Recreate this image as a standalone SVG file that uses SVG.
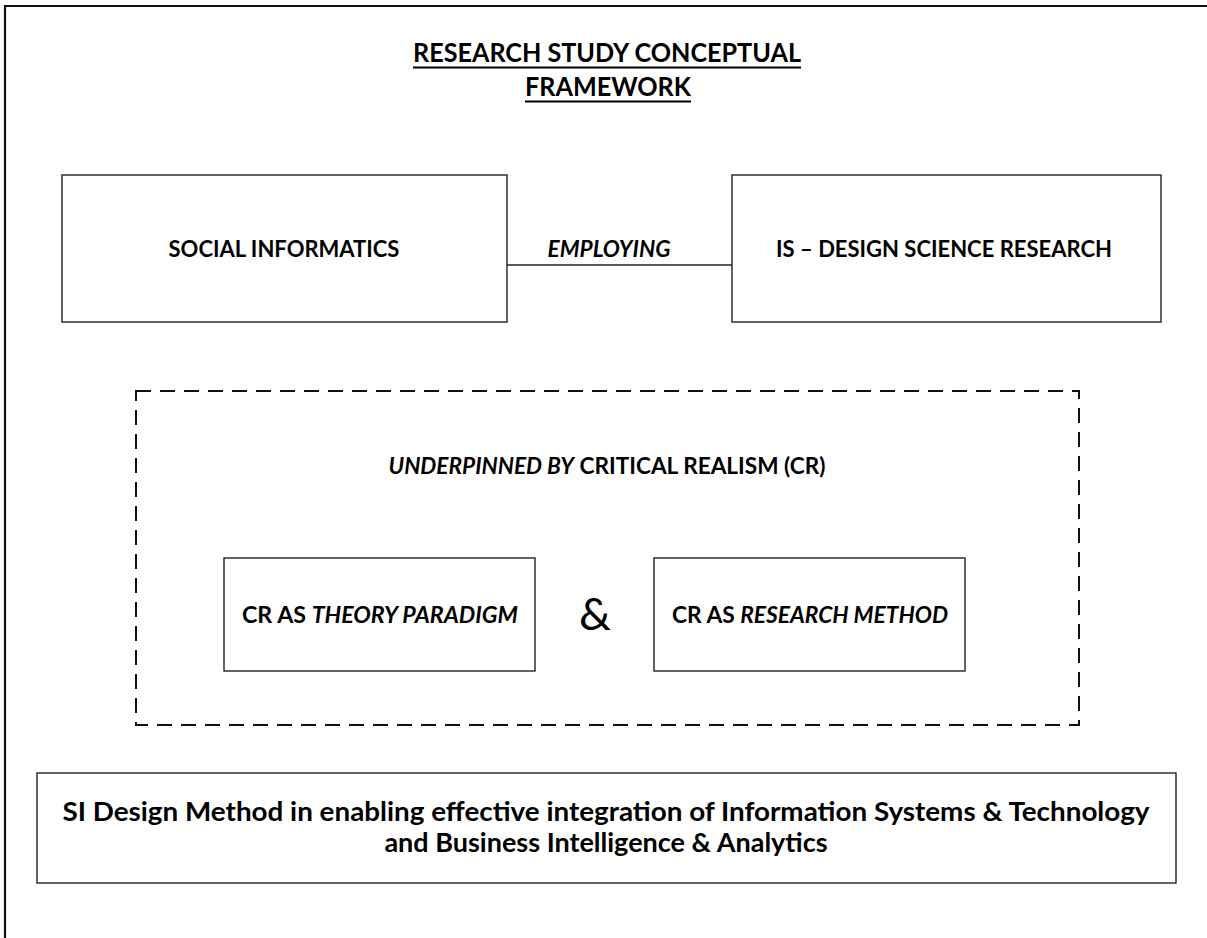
<svg xmlns="http://www.w3.org/2000/svg" width="1207" height="938" viewBox="0 0 1207 938">
  <style>
    .frame { fill: none; stroke: #111; stroke-width: 2.2; }
    .box { fill: #fff; stroke: #222; stroke-width: 1.4; }
    .dash { fill: none; stroke: #111; stroke-width: 2; stroke-dasharray: 15 9; }
    .conn { fill: none; stroke: #222; stroke-width: 1.4; }
    text { font-family: Lato, "Open Sans", "Liberation Sans", sans-serif; font-weight: bold; fill: #000; text-anchor: middle; }
    .title { font-size: 26px; }
    .lbl { font-size: 22px; }
    .big { font-size: 27px; }
    .amp { font-size: 45px; font-weight: normal; }
    .it { font-style: italic; }
    .ul { stroke: #000; stroke-width: 2; }
  </style>
  <rect width="1207" height="938" fill="#fff"/>
  <!-- page border (open at right and bottom) -->
  <path class="frame" d="M5,940 V6 H1210"/>

  <g id="title">
    <text class="title" x="607" y="62" textLength="388" lengthAdjust="spacingAndGlyphs">RESEARCH STUDY CONCEPTUAL</text>
    <line class="ul" x1="413" y1="67.5" x2="801" y2="67.5"/>
    <text class="title" x="608" y="96" textLength="166" lengthAdjust="spacingAndGlyphs">FRAMEWORK</text>
    <line class="ul" x1="525" y1="101.5" x2="691" y2="101.5"/>
  </g>

  <g id="connectors">
    <line class="conn" x1="507" y1="265" x2="732" y2="265"/>
    <text class="lbl it" x="609" y="257" textLength="123" lengthAdjust="spacingAndGlyphs">EMPLOYING</text>
  </g>

  <g id="social-informatics">
    <rect class="box" x="62" y="175" width="445" height="147"/>
    <text class="lbl" x="284" y="257">SOCIAL INFORMATICS</text>
  </g>

  <g id="design-science">
    <rect class="box" x="732" y="175" width="429" height="147"/>
    <text class="lbl" x="944" y="257">IS – DESIGN SCIENCE RESEARCH</text>
  </g>

  <g id="critical-realism">
    <rect class="dash" x="136" y="391" width="943" height="334"/>
    <text class="lbl" x="607" y="474" textLength="437" lengthAdjust="spacingAndGlyphs"><tspan class="it">UNDERPINNED BY</tspan> CRITICAL REALISM (CR)</text>
  </g>

  <g id="cr-theory">
    <rect class="box" x="224" y="558" width="311" height="113"/>
    <text class="lbl" x="380" y="623" textLength="276" lengthAdjust="spacingAndGlyphs">CR AS <tspan class="it">THEORY PARADIGM</tspan></text>
  </g>

  <text class="amp" x="595" y="630">&amp;</text>

  <g id="cr-method">
    <rect class="box" x="654" y="558" width="311" height="113"/>
    <text class="lbl" x="810" y="623" textLength="276" lengthAdjust="spacingAndGlyphs">CR AS <tspan class="it">RESEARCH METHOD</tspan></text>
  </g>

  <g id="si-design-method">
    <rect class="box" x="37" y="773" width="1139" height="110"/>
    <text class="big" x="606" y="821" textLength="1087" lengthAdjust="spacingAndGlyphs">SI Design Method in enabling effective integration of Information Systems &amp; Technology</text>
    <text class="big" x="606" y="852">and Business Intelligence &amp; Analytics</text>
  </g>
</svg>
